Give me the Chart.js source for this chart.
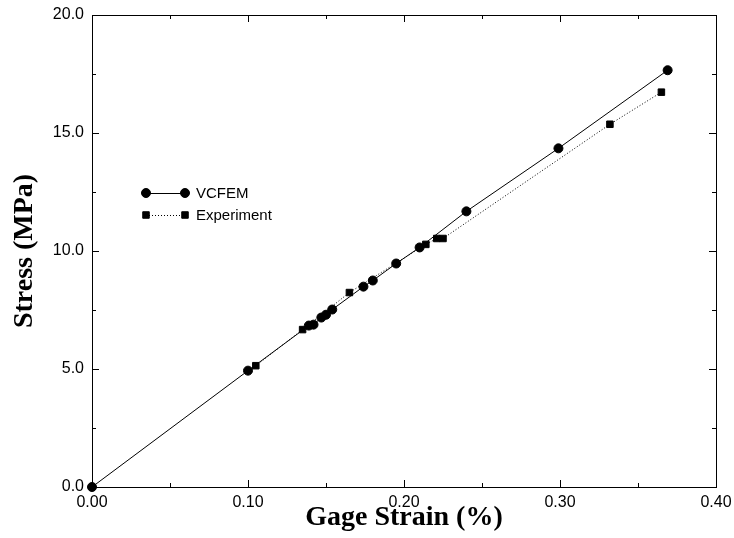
<!DOCTYPE html>
<html>
<head>
<meta charset="utf-8">
<script src="https://cdn.jsdelivr.net/npm/chart.js@4/dist/chart.umd.min.js"></script>
<style>
  html, body { margin: 0; padding: 0; background: #fff; }
</style>
</head>
<body>
<canvas id="chart" width="734" height="538"></canvas>
<script>
// values
const vcfemStrain = [0, 0.100, 0.139, 0.142, 0.147, 0.150, 0.154, 0.174, 0.180, 0.195, 0.210, 0.240, 0.299, 0.369];
const vcfemStress = [0, 4.93, 6.84, 6.88, 7.18, 7.30, 7.52, 8.49, 8.75, 9.47, 10.15, 11.68, 14.35, 17.66];
const expStrain = [0.105, 0.135, 0.165, 0.214, 0.221, 0.225, 0.332, 0.365];
const expStress = [5.14, 6.67, 8.24, 10.28, 10.53, 10.53, 15.37, 16.73];

const xTicks = [0, 0.1, 0.2, 0.3, 0.4];
const xMinor = [0.05, 0.15, 0.25, 0.35];
const yTicks = [0, 5, 10, 15, 20];
const yMinor = [2.5, 7.5, 12.5, 17.5];

Chart.defaults.font.family = "'Liberation Sans', Arial, sans-serif";
Chart.defaults.color = '#000';

const toPoints = (xs, ys) => xs.map((x, i) => ({ x: x, y: ys[i] }));

// box round the plot with inward ticks on all four sides
const frame = {
  id: 'frame',
  beforeDatasetsDraw(chart) {
    const { ctx, chartArea: a, scales } = chart;
    ctx.save();
    ctx.strokeStyle = '#000';
    ctx.lineWidth = 1;
    ctx.strokeRect(a.left + 0.5, a.top + 0.5, a.right - a.left, a.bottom - a.top);
    const tickX = (v, len) => {
      const px = Math.round(scales.x.getPixelForValue(v)) + 0.5;
      ctx.moveTo(px, a.bottom); ctx.lineTo(px, a.bottom - len);
      ctx.moveTo(px, a.top); ctx.lineTo(px, a.top + len);
    };
    const tickY = (v, len) => {
      const py = Math.round(scales.y.getPixelForValue(v)) + 0.5;
      ctx.moveTo(a.left, py); ctx.lineTo(a.left + len, py);
      ctx.moveTo(a.right, py); ctx.lineTo(a.right - len, py);
    };
    ctx.beginPath();
    xTicks.forEach(v => tickX(v, 7));
    xMinor.forEach(v => tickX(v, 4));
    yTicks.forEach(v => tickY(v, 7));
    yMinor.forEach(v => tickY(v, 4));
    ctx.stroke();
    ctx.restore();
  }
};

// legend in the upper left of the plot: marker - line - marker, then label
const insetLegend = {
  id: 'insetLegend',
  afterDatasetsDraw(chart) {
    const { ctx } = chart;
    ctx.save();
    chart.data.datasets.forEach((ds, i) => {
      const y = 193 + i * 22;
      const x0 = 146, x1 = 185;
      ctx.beginPath();
      ctx.strokeStyle = ds.borderColor;
      ctx.lineWidth = ds.borderWidth;
      ctx.setLineDash(ds.borderDash || []);
      ctx.moveTo(x0, y + 0.5); ctx.lineTo(x1, y + 0.5);
      ctx.stroke();
      ctx.setLineDash([]);
      ctx.fillStyle = ds.pointBackgroundColor;
      ctx.strokeStyle = ds.pointBorderColor;
      const opts = { pointStyle: ds.pointStyle, radius: ds.pointRadius, rotation: 0, borderWidth: ds.pointBorderWidth };
      Chart.helpers.drawPoint(ctx, opts, x0, y);
      Chart.helpers.drawPoint(ctx, opts, x1, y);
      ctx.fillStyle = '#000';
      ctx.font = "15px 'Liberation Sans', Arial, sans-serif";
      ctx.textBaseline = 'middle';
      ctx.fillText(ds.label, 196, y + 1);
    });
    ctx.restore();
  }
};

new Chart(document.getElementById('chart'), {
  type: 'scatter',
  data: {
    datasets: [
      {
        label: 'VCFEM',
        data: toPoints(vcfemStrain, vcfemStress),
        showLine: true,
        clip: false,
        borderColor: '#000',
        borderWidth: 1,
        pointStyle: 'circle',
        pointRadius: 4.5,
        pointBackgroundColor: '#000',
        pointBorderColor: '#000',
        pointBorderWidth: 1
      },
      {
        label: 'Experiment',
        data: toPoints(expStrain, expStress),
        showLine: true,
        clip: false,
        borderColor: '#000',
        borderWidth: 1,
        borderDash: [1, 2],
        pointStyle: 'rect',
        pointRadius: 4.6,
        pointBackgroundColor: '#000',
        pointBorderColor: '#000',
        pointBorderWidth: 1
      }
    ]
  },
  options: {
    responsive: false,
    animation: false,
    devicePixelRatio: 1,
    layout: { padding: { top: 15, right: 18, left: 0, bottom: 0 } },
    plugins: { legend: { display: false }, tooltip: { enabled: false } },
    scales: {
      x: {
        type: 'linear',
        min: 0,
        max: 0.4,
        grid: { display: false, drawTicks: false },
        border: { display: false },
        afterBuildTicks: s => { s.ticks = xTicks.map(v => ({ value: v })); },
        afterFit: s => { s.height = 51; s.paddingLeft = 0; s.paddingRight = 0; },
        ticks: {
          padding: 6,
          maxRotation: 0,
          font: { size: 16 },
          callback: v => v.toFixed(2)
        },
        title: {
          display: true,
          text: 'Gage Strain (%)',
          padding: { top: 0, bottom: 3 },
          font: { family: "'Liberation Serif', 'Times New Roman', serif", size: 28, weight: 'bold' }
        }
      },
      y: {
        type: 'linear',
        min: 0,
        max: 20,
        grid: { display: false, drawTicks: false },
        border: { display: false },
        afterBuildTicks: s => { s.ticks = yTicks.map(v => ({ value: v })); },
        afterFit: s => { s.width = 92; s.paddingTop = 0; s.paddingBottom = 0; },
        ticks: {
          padding: 8,
          font: { size: 16 },
          callback: v => v.toFixed(1)
        },
        title: {
          display: true,
          text: 'Stress (MPa)',
          padding: { top: 8, bottom: 0 },
          font: { family: "'Liberation Serif', 'Times New Roman', serif", size: 28, weight: 'bold' }
        }
      }
    }
  },
  plugins: [frame, insetLegend]
});
</script>
</body>
</html>
